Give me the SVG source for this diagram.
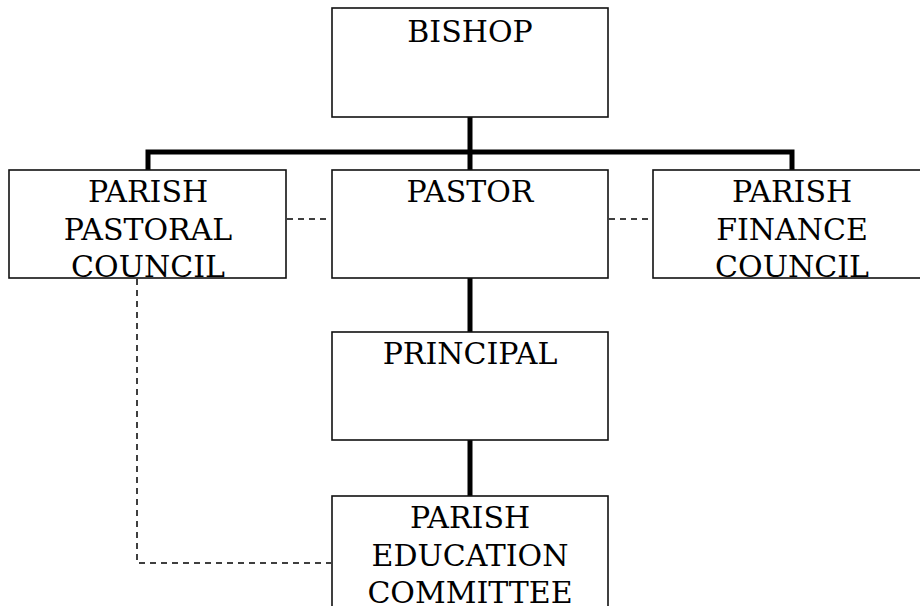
<svg xmlns="http://www.w3.org/2000/svg" width="920" height="606" viewBox="0 0 920 606">
<style>
.box{fill:#fff;stroke:#111;stroke-width:1.6}
.t{font-family:"DejaVu Serif",serif;font-size:30px;fill:#000;text-anchor:middle}
.solid{fill:none;stroke:#000;stroke-width:5}
.dash{fill:none;stroke:#000;stroke-width:1.5;stroke-dasharray:6 5}
</style>
<rect width="920" height="606" fill="#fff"/>
<g id="connectors">
<path class="solid" d="M470 117 V170 M148 170 V152 H792 V170 M470 278 V332 M470 440 V496"/>
<path class="dash" d="M287 219 H331 M609 219 H652 M137 279 V563 H331"/>
</g>
<g id="bishop">
<rect class="box" x="332" y="8" width="276" height="109"/>
<text class="t" x="470" y="42">BISHOP</text>
</g>
<g id="ppc">
<rect class="box" x="9" y="170" width="277" height="108"/>
<text class="t" x="148" y="202">PARISH</text>
<text class="t" x="148" y="240">PASTORAL</text>
<text class="t" x="148" y="277">COUNCIL</text>
</g>
<g id="pastor">
<rect class="box" x="332" y="170" width="276" height="108"/>
<text class="t" x="470" y="202">PASTOR</text>
</g>
<g id="pfc">
<rect class="box" x="653" y="170" width="278" height="108"/>
<text class="t" x="792" y="202">PARISH</text>
<text class="t" x="792" y="240">FINANCE</text>
<text class="t" x="792" y="277">COUNCIL</text>
</g>
<g id="principal">
<rect class="box" x="332" y="332" width="276" height="108"/>
<text class="t" x="470" y="364">PRINCIPAL</text>
</g>
<g id="pec">
<rect class="box" x="332" y="496" width="276" height="130"/>
<text class="t" x="470" y="528">PARISH</text>
<text class="t" x="470" y="566">EDUCATION</text>
<text class="t" x="470" y="603">COMMITTEE</text>
</g>
</svg>
